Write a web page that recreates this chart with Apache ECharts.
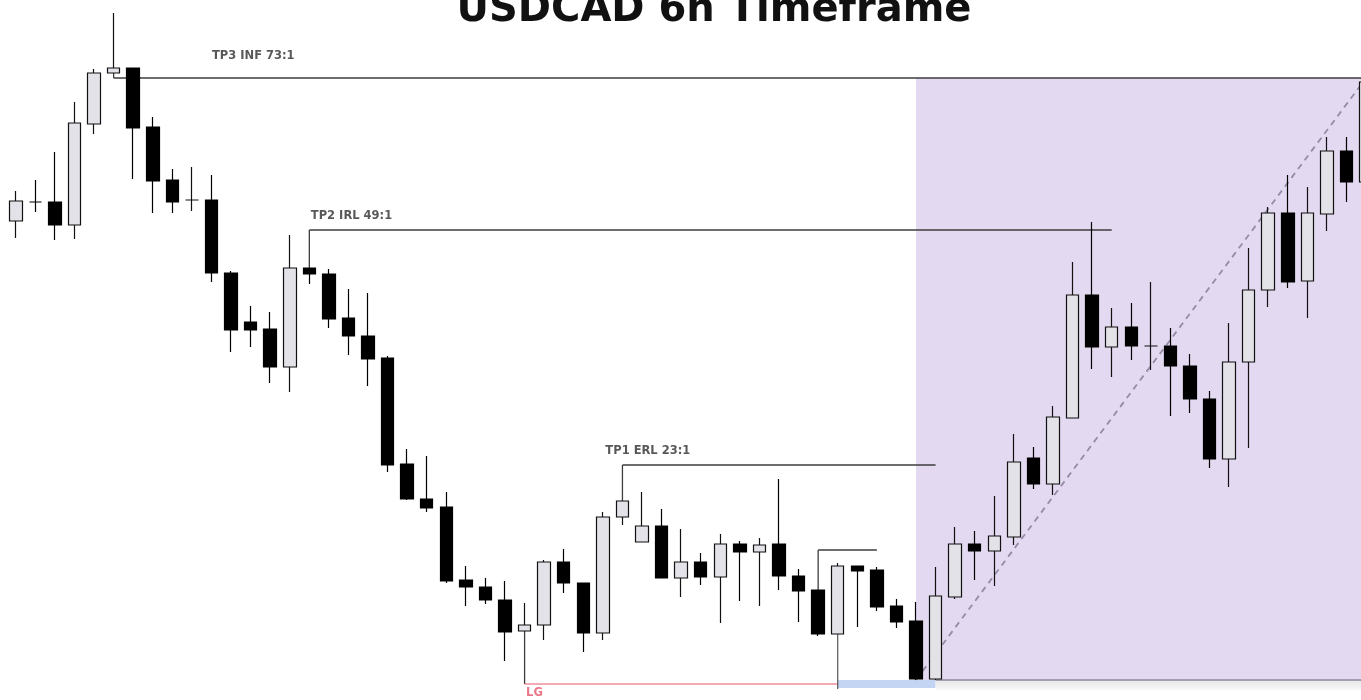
<!DOCTYPE html>
<html>
<head>
<meta charset="utf-8">
<script src="https://cdn.jsdelivr.net/npm/echarts@6/dist/echarts.min.js"></script>
<style>
  html, body { margin: 0; padding: 0; background: #ffffff; }
  #chart { width: 1361px; height: 700px; }
</style>
</head>
<body>
<div id="chart"></div>
<script>
// USDCAD, 6-hour candles
const opens = [
  1.3479, 1.3498, 1.3498, 1.3475, 1.3576, 1.3627, 1.3632, 1.3573, 1.3520, 1.3500,
  1.3500, 1.3427, 1.3378, 1.3371, 1.3333, 1.3432, 1.3426, 1.3382, 1.3364, 1.3342,
  1.3236, 1.3201, 1.3193, 1.3120, 1.3113, 1.3100, 1.3069, 1.3075, 1.3138, 1.3117,
  1.3067, 1.3183, 1.3158, 1.3174, 1.3122, 1.3138, 1.3123, 1.3156, 1.3148, 1.3156,
  1.3124, 1.3110, 1.3066, 1.3134, 1.3130, 1.3094, 1.3079, 1.3021, 1.3103, 1.3156,
  1.3149, 1.3163, 1.3242, 1.3216, 1.3282, 1.3405, 1.3353, 1.3373, 1.3354, 1.3354,
  1.3334, 1.3301, 1.3241, 1.3338, 1.3410, 1.3487, 1.3419, 1.3486, 1.3549, 1.3518
];
const closes = [
  1.3499, 1.3498, 1.3475, 1.3577, 1.3627, 1.3632, 1.3572, 1.3519, 1.3498, 1.3500,
  1.3427, 1.3370, 1.3370, 1.3333, 1.3432, 1.3426, 1.3381, 1.3364, 1.3341, 1.3235,
  1.3201, 1.3192, 1.3119, 1.3113, 1.3100, 1.3068, 1.3075, 1.3138, 1.3117, 1.3067,
  1.3183, 1.3199, 1.3174, 1.3122, 1.3138, 1.3123, 1.3156, 1.3148, 1.3155, 1.3124,
  1.3109, 1.3066, 1.3134, 1.3129, 1.3093, 1.3078, 1.3021, 1.3104, 1.3156, 1.3149,
  1.3164, 1.3238, 1.3216, 1.3283, 1.3405, 1.3353, 1.3373, 1.3354, 1.3354, 1.3334,
  1.3301, 1.3241, 1.3338, 1.3410, 1.3487, 1.3418, 1.3487, 1.3549, 1.3518, 1.3618
];
const lows = [
  1.3462, 1.3488, 1.3460, 1.3461, 1.3566, 1.3627, 1.3521, 1.3487, 1.3487, 1.3489,
  1.3418, 1.3348, 1.3353, 1.3317, 1.3308, 1.3416, 1.3372, 1.3345, 1.3314, 1.3228,
  1.3200, 1.3188, 1.3117, 1.3094, 1.3096, 1.3039, 1.3069, 1.3060, 1.3107, 1.3048,
  1.3060, 1.3175, 1.3158, 1.3122, 1.3103, 1.3115, 1.3077, 1.3099, 1.3094, 1.3110,
  1.3078, 1.3064, 1.3066, 1.3073, 1.3089, 1.3072, 1.3020, 1.3020, 1.3101, 1.3120,
  1.3114, 1.3155, 1.3211, 1.3205, 1.3282, 1.3331, 1.3323, 1.3340, 1.3330, 1.3284,
  1.3287, 1.3232, 1.3213, 1.3252, 1.3393, 1.3412, 1.3382, 1.3469, 1.3498, 1.3510
];
const highs = [
  1.3509, 1.3520, 1.3548, 1.3598, 1.3631, 1.3687, 1.3632, 1.3583, 1.3531, 1.3533,
  1.3525, 1.3429, 1.3394, 1.3388, 1.3465, 1.3432, 1.3431, 1.3411, 1.3407, 1.3344,
  1.3251, 1.3244, 1.3208, 1.3134, 1.3122, 1.3119, 1.3097, 1.3140, 1.3151, 1.3117,
  1.3188, 1.3199, 1.3208, 1.3191, 1.3171, 1.3147, 1.3166, 1.3159, 1.3162, 1.3221,
  1.3131, 1.3110, 1.3137, 1.3134, 1.3133, 1.3101, 1.3098, 1.3133, 1.3173, 1.3169,
  1.3204, 1.3266, 1.3253, 1.3294, 1.3438, 1.3478, 1.3392, 1.3397, 1.3418, 1.3372,
  1.3346, 1.3309, 1.3377, 1.3452, 1.3493, 1.3525, 1.3513, 1.3563, 1.3563, 1.3620
];

// Target / liquidity levels: bar drawn from, price, bar it runs to, label
const levelNames  = ['TP3 INF 73:1', 'TP2 IRL 49:1', 'TP1 ERL 23:1', 'LG', ''];
const levelPrices = [1.3622, 1.3470, 1.3235, 1.3016, 1.3150];
const levelFrom   = [5, 15, 31, 26, 41];
const levelTo     = [69, 56, 47, 42, 44];
const labelBars   = [10, 15, 30, 26];

// Trade projection box
const boxFromBar = 46;
const boxToBar = 69;
const boxLow = 1.3020;
const boxHigh = 1.3622;
// Blue entry zone under the base
const zoneFrom = 42, zoneTo = 47, zoneLow = 1.3012, zoneHigh = 1.3020;

// bar index on the x value axis: [index, open, close, low, high]
const candleData = opens.map((o, i) => [i, o, closes[i], lows[i], highs[i]]);

function bodyEdgeToward(i, price) {
  const top = Math.max(opens[i], closes[i]);
  const bot = Math.min(opens[i], closes[i]);
  return price >= top ? top : bot;
}

const chart = echarts.init(document.getElementById('chart'), null, { renderer: 'canvas' });

const lineColor = '#3d3d3d';
const series = [];

// projection box and zones (under the candles)
series.push({
  type: 'line', data: [], z: 1, silent: true,
  markArea: {
    silent: true,
    data: [
      [{ xAxis: boxFromBar, yAxis: boxLow, itemStyle: { color: '#e3d9f1' } },
       { xAxis: boxToBar, yAxis: boxHigh }],
      [{ xAxis: zoneFrom, yAxis: zoneLow, itemStyle: { color: '#c4d5f4' } },
       { xAxis: zoneTo, yAxis: zoneHigh }],
      [{ xAxis: zoneTo, yAxis: boxLow - 0.0010,
         itemStyle: { color: new echarts.graphic.LinearGradient(0, 0, 0, 1, [
           { offset: 0, color: '#e6e6e8' }, { offset: 1, color: '#f8f8f8' }]) } },
       { xAxis: boxToBar, yAxis: boxLow }]
    ]
  }
});

// bottom edge of the box
series.push({
  type: 'line', z: 2, silent: true, symbol: 'none',
  data: [[zoneTo, boxLow], [boxToBar, boxLow]],
  lineStyle: { color: '#8a8a98', width: 1.5 }
});

// diagonal projection
series.push({
  type: 'line', z: 2, silent: true, symbol: 'none',
  data: [[boxFromBar, boxLow], [boxToBar, boxHigh]],
  lineStyle: { color: '#948ca4', width: 1.8, type: [6, 5] }
});

// level lines with their connectors
levelPrices.forEach((p, k) => {
  const a = levelFrom[k];
  const start = bodyEdgeToward(a, p);
  const isLG = levelNames[k] === 'LG';
  series.push({
    type: 'line', z: 2, silent: true, symbol: 'none',
    data: [[a, start], [a, p]],
    lineStyle: { color: lineColor, width: 1.3 }
  });
  series.push({
    type: 'line', z: 2, silent: true, symbol: 'none',
    data: [[a, p], [levelTo[k], p]],
    lineStyle: { color: isLG ? '#e5566c' : lineColor, width: isLG ? 1.2 : 1.3 }
  });
});

// connector from the base candle down into the blue zone
series.push({
  type: 'line', z: 2, silent: true, symbol: 'none',
  data: [[zoneFrom, bodyEdgeToward(zoneFrom, zoneLow)], [zoneFrom, zoneLow - 0.0001]],
  lineStyle: { color: '#555', width: 1.2 }
});

// level labels
const labelOffsets = [[0, -22], [1, -14], [2, -14], [1, 9]];
series.push({
  type: 'scatter', z: 5, silent: true, symbolSize: 1,
  itemStyle: { color: 'rgba(0,0,0,0)' },
  data: labelBars.map((b, k) => ({
    value: [b, levelPrices[k]],
    label: {
      show: true, position: 'right', distance: 0,
      offset: labelOffsets[k],
      formatter: levelNames[k],
      color: levelNames[k] === 'LG' ? '#e5566c' : '#2e2e2e',
      fontFamily: 'DejaVu Sans', fontWeight: 'bold', fontSize: 11.5
    }
  }))
});

// candles
series.push({
  type: 'candlestick', z: 3, silent: true,
  data: candleData,
  encode: { x: 0, y: [1, 2, 3, 4] },
  barWidth: 13,
  itemStyle: {
    color: '#e2e2e8', color0: '#000000',
    borderColor: '#111111', borderColor0: '#000000',
    borderWidth: 1.2
  }
});

chart.setOption({
  animation: false,
  backgroundColor: '#ffffff',
  grid: { left: 6, top: 0, right: 0, bottom: 0, containLabel: false },
  xAxis: { type: 'value', min: -0.5, max: 68.74, show: false, splitLine: { show: false } },
  yAxis: { type: 'value', min: 1.3000, max: 1.3700, show: false, splitLine: { show: false } },
  graphic: [{
    type: 'text', x: 714, y: 11, z: 10,
    style: {
      text: 'USDCAD 6h Timeframe',
      font: 'bold 40px "DejaVu Sans"',
      fill: '#111111', textAlign: 'center', textVerticalAlign: 'middle'
    }
  }],
  series: series
});
</script>
</body>
</html>
